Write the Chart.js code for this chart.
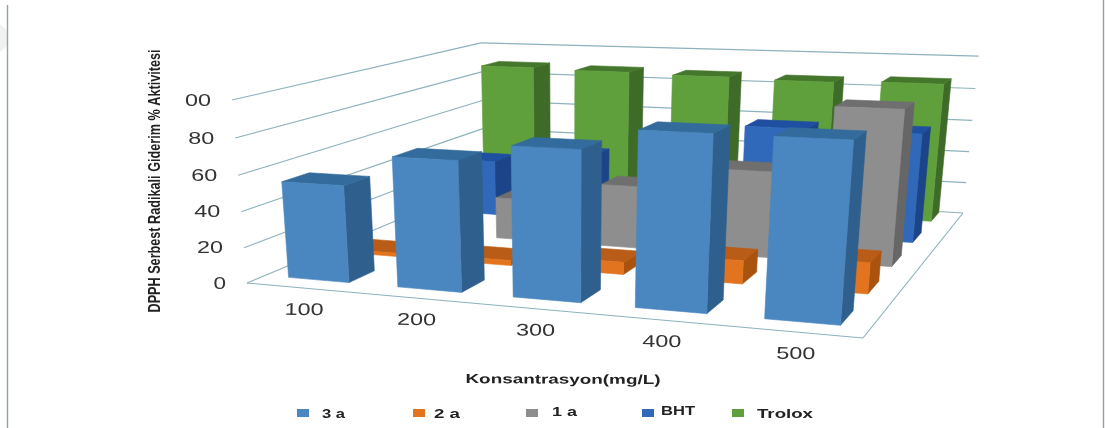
<!DOCTYPE html>
<html>
<head>
<meta charset="utf-8">
<title>DPPH</title>
<style>
  html, body { margin: 0; padding: 0; background: #fff; }
  canvas { display: block; }
</style>
<script src="https://cdn.jsdelivr.net/npm/chart.js@4/dist/chart.umd.min.js"></script>
</head>
<body>
<canvas id="c" width="1105" height="428"></canvas>
<script>
// Data
const categories = ['100', '200', '300', '400', '500'];
const seriesNames = ['3 a', '2 a', '1 a', 'BHT', 'Trolox'];
const values3a = [54, 71, 80, 91, 91];
const values2a = [2, 3, 7, 13, 17];
const values1a = [8, 25, 37, 50, 88];
const valuesBHT = [35, 42, 52, 65, 65];
const valuesTrolox = [88, 87, 86, 85, 86];
const yTickLabels = { 0: '0', 20: '20', 40: '40', 60: '60', 80: '80', 100: '00' };
const yTitle = 'DPPH Serbest Radikali Giderim % Aktivitesi';
const xTitle = 'Konsantrasyon(mg/L)';

// Face colours per series: front, side, top
const faces = [
  ['#4a86bf', '#2f5f8c', '#336b9c'],
  ['#e2741f', '#a9530f', '#b95c17'],
  ['#8e8e8e', '#666666', '#6f6f6f'],
  ['#3068ba', '#1b4489', '#1f4fa0'],
  ['#5f9f3c', '#3f6b28', '#44772b']
];

// Perspective of the plot box: floor corners and the vanishing point of verticals
const floor = { fl: [247, 283], fr: [863, 338], br: [963, 213], bl: [484, 184] };
const frontLeftTop = [232, 100];
const verticalVanish = [567, 4194];
// Depth of the rows along the floor, as fractions of the floor's depth
const firstRowStart = 0.06;
const rowStep = 0.209;
const rowDepth = 0.093;

function buildProjection() {
  const [x0, y0] = floor.fl, [x1, y1] = floor.fr, [x2, y2] = floor.br, [x3, y3] = floor.bl;
  const dx1 = x1 - x2, dx2 = x3 - x2, sx = x0 - x1 + x2 - x3;
  const dy1 = y1 - y2, dy2 = y3 - y2, sy = y0 - y1 + y2 - y3;
  const det = dx1 * dy2 - dx2 * dy1;
  const g = (sx * dy2 - dx2 * sy) / det, h = (dx1 * sy - sx * dy1) / det;
  const a = x1 - x0 + g * x1, b = x3 - x0 + h * x3, c = x0;
  const d = y1 - y0 + g * y1, e = y3 - y0 + h * y3, f = y0;
  const k = (y0 - frontLeftTop[1]) / (frontLeftTop[1] - verticalVanish[1]);
  return (u, v, z) => {
    const w = g * u + h * v + 1 + z * k;
    return [(a * u + b * v + c + z * k * verticalVanish[0]) / w,
            (d * u + e * v + f + z * k * verticalVanish[1]) / w];
  };
}
const project = buildProjection();

function poly(ctx, pts, fill) {
  ctx.beginPath();
  pts.forEach((p, i) => i ? ctx.lineTo(p[0], p[1]) : ctx.moveTo(p[0], p[1]));
  ctx.closePath();
  ctx.fillStyle = fill;
  ctx.strokeStyle = fill;
  ctx.lineWidth = 0.6;
  ctx.fill();
  ctx.stroke();
}

// Text squeezed or stretched to a given width, optionally rotated
function fitText(ctx, text, x, y, width, font, color, angle, align) {
  ctx.save();
  ctx.font = font;
  ctx.fillStyle = color;
  ctx.textBaseline = 'middle';
  ctx.textAlign = 'left';
  const natural = ctx.measureText(text).width;
  ctx.translate(x, y);
  ctx.rotate(angle || 0);
  ctx.scale(width / natural, 1);
  const start = align === 'right' ? -natural : align === 'left' ? 0 : -natural / 2;
  ctx.fillText(text, start, 0);
  ctx.restore();
}

// Bars whose flat rectangles from the scales are raised into the 3D box
class Bar3DController extends Chart.BarController {
  draw() {
    const chart = this.chart, ctx = chart.ctx, area = chart.chartArea;
    const row = this.index;
    const colors = faces[row];
    const v0 = firstRowStart + row * rowStep;
    const v1 = v0 + rowDepth;
    const bars = this.getMeta().data;
    for (let i = bars.length - 1; i >= 0; i--) {
      const el = bars[i];
      const u0 = (el.x - el.width / 2 - area.left) / area.width;
      const u1 = (el.x + el.width / 2 - area.left) / area.width;
      const z = (el.base - el.y) / area.height;
      poly(ctx, [project(u1, v0, 0), project(u1, v1, 0), project(u1, v1, z), project(u1, v0, z)], colors[1]);
      poly(ctx, [project(u0, v0, z), project(u1, v0, z), project(u1, v1, z), project(u0, v1, z)], colors[2]);
      poly(ctx, [project(u0, v0, 0), project(u1, v0, 0), project(u1, v0, z), project(u0, v0, z)], colors[0]);
    }
  }
}
Bar3DController.id = 'bar3d';
Bar3DController.defaults = Chart.BarController.defaults;
Bar3DController.overrides = Chart.BarController.overrides;
Chart.register(Bar3DController);

const boxPlugin = {
  id: 'box3d',
  beforeDatasetsDraw(chart) {
    const ctx = chart.ctx, yScale = chart.scales.y, area = chart.chartArea;
    ctx.save();
    // page frame
    ctx.fillStyle = '#f1f1f1';
    ctx.beginPath();
    ctx.moveTo(0, 24); ctx.lineTo(7, 30); ctx.lineTo(7, 46); ctx.lineTo(0, 52);
    ctx.closePath(); ctx.fill();
    ctx.strokeStyle = '#8fa3a8';
    ctx.lineWidth = 1.4;
    ctx.beginPath();
    ctx.moveTo(7.5, 5); ctx.lineTo(7.5, 428);
    ctx.moveTo(1103.5, 0); ctx.lineTo(1103.5, 428);
    ctx.stroke();
    // walls and floor
    ctx.strokeStyle = '#8db1bd';
    ctx.lineWidth = 1.2;
    const line = (a, b) => {
      ctx.beginPath(); ctx.moveTo(a[0], a[1]); ctx.lineTo(b[0], b[1]); ctx.stroke();
    };
    yScale.ticks.forEach(t => {
      const z = (area.bottom - yScale.getPixelForValue(t.value)) / area.height;
      line(project(0, 0, z), project(0, 1, z));
      line(project(0, 1, z), project(1, 1, z));
      fitText(ctx, yTickLabels[t.value], project(0, 0, z)[0] - 21, project(0, 0, z)[1] + 1,
        (t.value === 0 ? 12.5 : 26), '17px "Liberation Sans"', '#333', 0, 'right');
    });
    line(project(0, 0, 0), project(1, 0, 0));
    line(project(1, 0, 0), project(1, 1, 0));
    // category labels hang below the floor's near edge
    chart.scales.x.ticks.forEach((t, i) => {
      const u = (chart.scales.x.getPixelForTick(i) - area.left) / area.width;
      const p = project(u, 0, 0);
      fitText(ctx, categories[t.value], p[0] + 3, p[1] + 22.5, 39, '17px "Liberation Sans"', '#333', 0.015);
    });
    ctx.restore();
  },
  afterDraw(chart) {
    const ctx = chart.ctx;
    fitText(ctx, yTitle, 155, 181, 263, 'bold 17px "Liberation Sans"', '#222', -Math.PI / 2);
    fitText(ctx, xTitle, 563, 380, 195, 'bold 13px "Liberation Sans"', '#222', 0.005);
    const swatchX = [297, 413, 526, 642, 732];
    const textX = [322, 434, 552, 661, 757];
    const textW = [23, 26, 25, 34, 56];
    const textY = [414, 414, 412, 411, 414];
    chart.data.datasets.forEach((ds, i) => {
      ctx.fillStyle = ds.backgroundColor;
      ctx.fillRect(swatchX[i], 409, 12, 8);
      fitText(ctx, ds.label, textX[i], textY[i], textW[i], 'bold 13px "Liberation Sans"', '#222', 0, 'left');
    });
  }
};

const series = [values3a, values2a, values1a, valuesBHT, valuesTrolox];
new Chart(document.getElementById('c'), {
  type: 'bar3d',
  data: {
    labels: categories,
    datasets: series.map((data, i) => ({
      label: seriesNames[i],
      data,
      backgroundColor: faces[i][0],
      grouped: false,
      clip: false,
      categoryPercentage: 1,
      barPercentage: 0.56
    }))
  },
  options: {
    responsive: false,
    animation: false,
    layout: { padding: 0 },
    plugins: { legend: { display: false }, tooltip: { enabled: false } },
    scales: {
      x: { type: 'category', offset: true, display: false, grid: { offset: true } },
      y: { type: 'linear', min: 0, max: 100, display: false, ticks: { stepSize: 20 } }
    }
  },
  plugins: [boxPlugin]
});
</script>
</body>
</html>
